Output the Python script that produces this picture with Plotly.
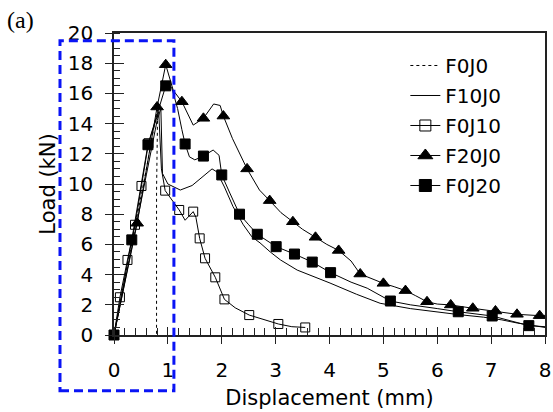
import plotly.graph_objects as go

# ---------------- data ----------------
# F0J0 (dotted line)
f0j0_x = [0, 0.2, 0.4, 0.6, 0.78, 0.81, 0.79, 0.79]
f0j0_y = [0, 3.6, 7.3, 11.0, 14.5, 14.9, 9.6, 0]

# F10J0 (solid line)
f10j0_x = [0, 0.2, 0.4, 0.6, 0.8, 0.87, 0.9, 1.0, 1.23, 1.45, 1.65, 1.82, 1.91, 2.05, 2.21,
           2.4, 2.56, 2.71, 2.9, 3.09, 3.4, 3.7, 4.01, 4.5, 4.94, 5.5, 5.93, 6.4, 6.86, 7.2,
           7.49, 8.0]
f10j0_y = [0, 3.4, 7.0, 10.6, 14.2, 15.0, 10.7, 10.0, 9.6, 9.9, 10.5, 11.0, 10.8, 9.8, 8.5,
           7.3, 6.5, 6.1, 5.5, 4.97, 4.3, 3.9, 3.44, 2.7, 2.1, 1.75, 1.54, 1.35, 1.18, 1.0,
           0.79, 0.5]

# F0J10 (open squares)
f0j10_x = [0, 0.11, 0.25, 0.39, 0.51, 0.64, 0.83, 0.88, 0.95, 1.1, 1.21, 1.32, 1.47, 1.52,
           1.59, 1.69, 1.88, 2.05, 2.25, 2.51, 2.8, 3.05, 3.3, 3.55]
f0j10_y = [0, 2.5, 4.97, 7.3, 9.87, 12.7, 14.8, 11.0, 9.56, 8.8, 8.28, 7.6, 8.17, 7.8,
           6.4, 5.08, 3.82, 2.36, 1.8, 1.32, 1.0, 0.73, 0.55, 0.5]
f0j10_mx = [0, 0.11, 0.25, 0.39, 0.51, 0.64, 0.95, 1.21, 1.47, 1.59, 1.69, 1.88, 2.05, 2.51,
            3.05, 3.55]
f0j10_my = [0, 2.5, 4.97, 7.3, 9.87, 12.7, 9.56, 8.28, 8.17, 6.4, 5.08, 3.82, 2.36, 1.32,
            0.73, 0.5]

# F20J0 (filled triangles)
f20j0_x = [0, 0.43, 0.8, 0.96, 1.10, 1.26, 1.47, 1.66, 1.85, 1.97, 2.03, 2.2, 2.47, 2.7,
           2.89, 3.1, 3.32, 3.5, 3.74, 3.95, 4.17, 4.4, 4.57, 4.8, 5.0, 5.2, 5.41, 5.6,
           5.81, 6.0, 6.25, 6.66, 7.08, 7.48, 7.9, 8.0]
f20j0_y = [0, 7.4, 15.1, 17.9, 16.2, 15.45, 13.9, 14.35, 15.3, 15.2, 14.5, 13.0, 11.0, 9.6,
           8.9, 8.1, 7.5, 7.0, 6.47, 6.0, 5.6, 4.9, 4.04, 3.7, 3.42, 3.2, 2.94, 2.6,
           2.2, 2.05, 1.99, 1.77, 1.59, 1.37, 1.28, 1.3]
f20j0_mx = [0.43, 0.8, 0.96, 1.26, 1.66, 2.03, 2.47, 2.89, 3.32, 3.74, 4.17, 4.57, 5.0,
            5.41, 5.81, 6.25, 6.66, 7.08, 7.48, 7.9]
f20j0_my = [7.4, 15.1, 17.9, 15.45, 14.35, 14.5, 11.0, 8.9, 7.5, 6.47, 5.6, 4.04, 3.42,
            2.94, 2.2, 1.99, 1.77, 1.59, 1.37, 1.28]

# F0J20 (filled squares)
f0j20_x = [0, 0.33, 0.63, 0.96, 1.07, 1.18, 1.26, 1.32, 1.4, 1.5, 1.66, 1.84, 1.95, 2.0,
           2.15, 2.33, 2.5, 2.66, 3.01, 3.35, 3.68, 4.02, 4.4, 4.7, 5.13, 5.5, 6.0, 6.39,
           7.02, 7.4, 7.7, 8.0]
f0j20_y = [0, 6.3, 12.6, 16.5, 16.4, 15.0, 13.6, 12.65, 11.8, 11.6, 11.85, 12.25, 11.9, 10.6,
           9.4, 8.0, 7.3, 6.67, 5.85, 5.36, 4.83, 4.13, 3.5, 3.1, 2.25, 2.0, 1.75, 1.54,
           1.26, 0.9, 0.62, 0.55]
f0j20_mx = [0, 0.33, 0.63, 0.96, 1.32, 1.66, 2.0, 2.33, 2.66, 3.01, 3.35, 3.68, 4.02, 5.13,
            6.39, 7.02, 7.7]
f0j20_my = [0, 6.3, 12.6, 16.5, 12.65, 11.85, 10.6, 8.0, 6.67, 5.85, 5.36, 4.83, 4.13, 2.25,
            1.54, 1.26, 0.62]

x_ticks = [0, 1, 2, 3, 4, 5, 6, 7, 8]
y_ticks = [0, 2, 4, 6, 8, 10, 12, 14, 16, 18, 20]

# ---------------- figure ----------------
FONT = "DejaVu Sans"
BLACK = "#000000"
fig = go.Figure()

def curve(x, y, dash="solid"):
    fig.add_trace(go.Scatter(x=x, y=y, mode="lines", showlegend=False,
                             line=dict(color=BLACK, width=1, dash=dash),
                             cliponaxis=False, hoverinfo="skip"))

def marks(x, y, symbol, size):
    fig.add_trace(go.Scatter(x=x, y=y, mode="markers", showlegend=False,
                             marker=dict(symbol=symbol, size=size, color=BLACK,
                                         line=dict(color=BLACK, width=1)),
                             cliponaxis=False, hoverinfo="skip"))

curve(f0j0_x, f0j0_y, "dot")
curve(f10j0_x, f10j0_y)
curve(f0j10_x, f0j10_y)
curve(f20j0_x, f20j0_y)
curve(f0j20_x, f0j20_y)
marks(f0j10_mx, f0j10_my, "square-open", 9)
marks(f20j0_mx, f20j0_my, "triangle-up", 11)
marks(f0j20_mx, f0j20_my, "square", 10)

# legend entries
legend_items = [
    ("F0J0", "lines", "dot", None, 0),
    ("F10J0", "lines", "solid", None, 0),
    ("F0J10", "lines+markers", "solid", "square-open", 11),
    ("F20J0", "lines+markers", "solid", "triangle-up", 13),
    ("F0J20", "lines+markers", "solid", "square", 12),
]
for i, (name, mode, dash, sym, sz) in enumerate(legend_items):
    kw = dict(x=[None], y=[None], mode=mode, name=name, legendgroup=name,
              line=dict(color=BLACK, width=1, dash=dash))
    if sym:
        kw["marker"] = dict(symbol=sym, size=sz, color=BLACK, line=dict(color=BLACK, width=1))
    if i == 0:
        kw["xaxis"] = "x2"
    if i == 1:
        kw["yaxis"] = "y2"
    fig.add_trace(go.Scatter(**kw))

# blue dashed rectangle (annotation frame)
fig.add_shape(type="rect", xref="paper", yref="paper",
              x0=-0.1253, x1=0.139, y0=-0.185, y1=0.974,
              line=dict(color="#0a14f5", width=3, dash="9px,5px"),
              fillcolor="rgba(0,0,0,0)", layer="above")

fig.add_annotation(text="(a)", xref="paper", yref="paper", x=-0.253, y=1.043,
                   xanchor="left", yanchor="middle", showarrow=False,
                   font=dict(family="Liberation Serif", size=24, color=BLACK))

axis_common = dict(showgrid=False, zeroline=False, showline=True, linecolor="#222222",
                   linewidth=1.5, mirror=True, ticks="outside", tickcolor="#222222",
                   tickwidth=1.2, automargin=False,
                   tickfont=dict(family=FONT, size=20, color=BLACK))

fig.update_layout(
    width=553, height=412,
    margin=dict(l=114, r=8, t=33, b=77, autoexpand=False),
    paper_bgcolor="white", plot_bgcolor="white",
    font=dict(family=FONT, color=BLACK),
    xaxis=dict(range=[0, 8], tickvals=x_ticks, ticklen=7, ticklabelstandoff=9,
               minor=dict(dtick=0.2, ticks="inside", ticklen=7, tickcolor="#222222", tickwidth=1),
               title=dict(text="Displacement (mm)", font=dict(family=FONT, size=21, color=BLACK),
                          standoff=10),
               **axis_common),
    yaxis=dict(range=[0, 20], tickvals=y_ticks, ticklen=7, ticklabelstandoff=8,
               minor=dict(dtick=0.5, ticks="inside", ticklen=6, tickcolor="#222222", tickwidth=1),
               title=dict(text="Load (kN)", font=dict(family=FONT, size=21, color=BLACK),
                          standoff=6),
               **axis_common),
    xaxis2=dict(range=[0, 8], overlaying="x", anchor="y", side="bottom", tickvals=x_ticks,
                ticks="inside", ticklen=8, tickcolor="#222222", tickwidth=1.2, automargin=False,
                showticklabels=False, showgrid=False, zeroline=False, showline=False),
    yaxis2=dict(range=[0, 20], overlaying="y", anchor="x", side="left", tickvals=y_ticks,
                ticks="inside", ticklen=10, tickcolor="#222222", tickwidth=1.2, automargin=False,
                showticklabels=False, showgrid=False, zeroline=False, showline=False),
    legend=dict(x=0.676, y=0.957, xanchor="left", yanchor="top", bgcolor="rgba(0,0,0,0)",
                traceorder="grouped", tracegroupgap=1,
                font=dict(family=FONT, size=20, color=BLACK), borderwidth=0),
)

fig.write_html("out.html", config={"displayModeBar": False},
               post_script="document.body.style.margin='0';document.body.style.overflow='hidden';")
